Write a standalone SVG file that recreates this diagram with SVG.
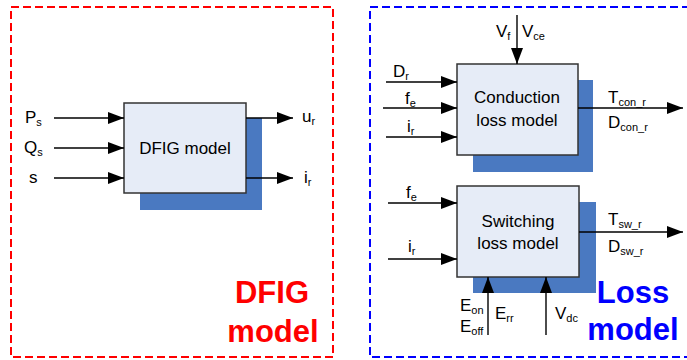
<svg xmlns="http://www.w3.org/2000/svg" width="687" height="360" viewBox="0 0 687 360">
<defs>
<marker id="ah" markerUnits="userSpaceOnUse" markerWidth="16" markerHeight="12" refX="16" refY="6" orient="auto">
<path d="M0,0 L16,6 L0,12 Z" fill="#000"/>
</marker>
</defs>
<style>
.lbl{font-family:"Liberation Sans",Arial,sans-serif;font-size:17px;fill:#000}
.sub{font-size:11px}
.ctr{text-anchor:middle}
.box{fill:#e6ecf7;stroke:#333;stroke-width:1.5}
.shd{fill:#4a79c1}
.ln{stroke:#000;stroke-width:1.4;fill:none;marker-end:url(#ah)}
.big{font-family:"Liberation Sans",Arial,sans-serif;font-size:31px;font-weight:bold;text-anchor:middle}
</style>
<rect id="dfig-frame" x="11" y="7" width="322" height="350" fill="none" stroke="#ff0000" stroke-width="2" stroke-dasharray="8,4"/>
<rect id="loss-frame" x="370" y="7" width="322" height="350" fill="none" stroke="#0000ff" stroke-width="2" stroke-dasharray="8,4"/>

<g id="dfig-model">
<rect class="shd" x="140" y="118" width="122" height="92"/>
<rect class="box" x="124" y="103" width="122" height="90"/>
<text class="lbl ctr" x="185" y="154">DFIG model</text>
</g>
<g id="conduction">
<rect class="shd" x="473" y="80" width="120" height="92"/>
<rect class="box" x="457" y="64" width="121" height="91"/>
<text class="lbl ctr" x="517" y="103">Conduction</text>
<text class="lbl ctr" x="517" y="126">loss model</text>
</g>
<g id="switching">
<rect class="shd" x="473" y="202" width="123" height="91"/>
<rect class="box" x="457" y="186" width="122" height="91"/>
<text class="lbl ctr" x="518" y="227">Switching</text>
<text class="lbl ctr" x="518" y="249">loss model</text>
</g>

<g id="connectors">
<line class="ln" x1="54" y1="118" x2="124" y2="118"/>
<line class="ln" x1="54" y1="148" x2="124" y2="148"/>
<line class="ln" x1="54" y1="178" x2="124" y2="178"/>
<line class="ln" x1="246" y1="118" x2="293" y2="118"/>
<line class="ln" x1="246" y1="178" x2="293" y2="178"/>
<line class="ln" x1="517" y1="15" x2="517" y2="64"/>
<line class="ln" x1="386" y1="82" x2="457" y2="82"/>
<line class="ln" x1="383" y1="108" x2="457" y2="108"/>
<line class="ln" x1="386" y1="137" x2="457" y2="137"/>
<line class="ln" x1="578" y1="108" x2="683" y2="108"/>
<line class="ln" x1="388" y1="203" x2="457" y2="203"/>
<line class="ln" x1="388" y1="259" x2="457" y2="259"/>
<line class="ln" x1="579" y1="232" x2="683" y2="232"/>
<line class="ln" x1="488" y1="335" x2="488" y2="277"/>
<line class="ln" x1="546" y1="335" x2="546" y2="277"/>
</g>

<g id="labels">
<text class="lbl" x="25" y="123">P<tspan class="sub" dy="3">s</tspan></text>
<text class="lbl" x="24" y="153">Q<tspan class="sub" dy="3">s</tspan></text>
<text class="lbl" x="29" y="183">s</text>
<text class="lbl" x="302" y="122">u<tspan class="sub" dy="3">r</tspan></text>
<text class="lbl" x="304" y="183">i<tspan class="sub" dy="3">r</tspan></text>
<text class="lbl" x="496" y="37">V<tspan class="sub" dy="3">f</tspan></text>
<text class="lbl" x="522" y="37">V<tspan class="sub" dy="3">ce</tspan></text>
<text class="lbl" x="393" y="77">D<tspan class="sub" dy="3">r</tspan></text>
<text class="lbl" x="405" y="104">f<tspan class="sub" dy="3">e</tspan></text>
<text class="lbl" x="407" y="132">i<tspan class="sub" dy="3">r</tspan></text>
<text class="lbl" x="608" y="103">T<tspan class="sub" dy="3">con_r</tspan></text>
<text class="lbl" x="608" y="128">D<tspan class="sub" dy="3">con_r</tspan></text>
<text class="lbl" x="406" y="198">f<tspan class="sub" dy="3">e</tspan></text>
<text class="lbl" x="408" y="252">i<tspan class="sub" dy="3">r</tspan></text>
<text class="lbl" x="608" y="225">T<tspan class="sub" dy="3">sw_r</tspan></text>
<text class="lbl" x="608" y="252">D<tspan class="sub" dy="3">sw_r</tspan></text>
<text class="lbl" x="460" y="311">E<tspan class="sub" dy="3">on</tspan></text>
<text class="lbl" x="460" y="332">E<tspan class="sub" dy="3">off</tspan></text>
<text class="lbl" x="495" y="319">E<tspan class="sub" dy="3">rr</tspan></text>
<text class="lbl" x="555" y="319">V<tspan class="sub" dy="3">dc</tspan></text>
<text class="big" x="272" y="303" fill="#ff0000">DFIG</text>
<text class="big" x="273" y="342" fill="#ff0000">model</text>
<text class="big" x="633" y="303" fill="#0000ff">Loss</text>
<text class="big" x="633" y="340" fill="#0000ff">model</text>
</g>
</svg>
